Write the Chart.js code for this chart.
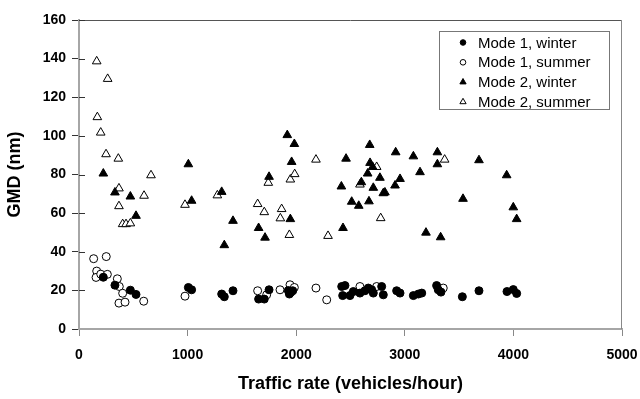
<!DOCTYPE html>
<html lang="en">
<head>
    <meta charset="UTF-8">
    <title>GMD vs traffic rate</title>
    <script src="https://cdn.jsdelivr.net/npm/chart.js"></script>
    <style>
        body {
            margin: 0;
            padding: 0;
            background-color: #fff;
        }
    </style>
</head>
<body>
    <canvas id="gmdChart" width="640" height="399"></canvas>
    <script>
        // values (traffic rate in vehicles/hour, GMD in nm)
        const m1WinterRate = [224, 331, 473, 525, 1007, 1037, 1314, 1338, 1418, 1654, 1706, 1750, 1927, 1937, 1949, 1968, 2419, 2449, 2428, 2495, 2526, 2587, 2633, 2664, 2695, 2710, 2787, 2802, 2925, 2956, 3079, 3125, 3156, 3293, 3308, 3333, 3530, 3683, 3941, 3999, 4030];
        const m1WinterGmd = [26.8, 22.7, 20.1, 17.9, 21.5, 20.3, 18.1, 16.7, 19.8, 15.5, 15.5, 20.3, 19.9, 18.1, 18.9, 19.8, 22, 22.5, 17.3, 17.3, 19.4, 18.6, 19.8, 21.2, 20.3, 18.6, 22, 17.7, 19.8, 18.6, 17.3, 18.1, 18.6, 22.5, 20.3, 19.1, 16.7, 19.8, 19.4, 20.4, 18.4];

        const m1SummerRate = [135, 251, 163, 157, 200, 261, 353, 371, 402, 368, 424, 596, 976, 1645, 1728, 1851, 1943, 1983, 2182, 2281, 2587, 2741, 3354];
        const m1SummerGmd = [36.4, 37.5, 30, 26.7, 28.4, 28.3, 26, 22, 18.5, 13.4, 13.9, 14.4, 17, 19.8, 17.7, 20.3, 22.9, 21.5, 21.2, 15.1, 22, 22, 21.2];

        const m2WinterRate = [224, 331, 473, 525, 1007, 1037, 1314, 1338, 1418, 1654, 1713, 1750, 1918, 1983, 1958, 1946, 2416, 2431, 2459, 2511, 2576, 2600, 2658, 2670, 2677, 2680, 2704, 2710, 2771, 2802, 2817, 2910, 2916, 2956, 3079, 3140, 3195, 3300, 3300, 3330, 3536, 3683, 3938, 3999, 4030];
        const m2WinterGmd = [80.5, 70.7, 68.6, 58.6, 85.3, 66.4, 71, 43.4, 56, 52.3, 47.3, 78.8, 100.4, 95.8, 86.5, 56.9, 73.8, 52.3, 88.2, 65.9, 63.8, 76, 80.5, 66.1, 95.3, 86, 83.9, 73.1, 78.3, 70.3, 70.7, 74.3, 91.5, 77.7, 89.4, 81.2, 49.9, 91.5, 85.3, 47.5, 67.4, 87.4, 79.6, 63, 56.9];

        const m2SummerRate = [163, 264, 169, 200, 249, 362, 368, 663, 599, 368, 402, 433, 473, 976, 1274, 1645, 1706, 1743, 1866, 1854, 1937, 1946, 1986, 2182, 2293, 2587, 2741, 2778, 3367];
        const m2SummerGmd = [138.6, 129.5, 109.7, 101.7, 90.5, 88.2, 72.8, 79.6, 69, 63.6, 54.3, 54.3, 54.7, 64.3, 69.2, 64.7, 60.5, 75.7, 62.1, 57.3, 48.7, 77.4, 80.2, 87.7, 48.2, 74.8, 83.9, 57.4, 87.7];

        const seriesLabels = ['Mode 1, winter', 'Mode 1, summer', 'Mode 2, winter', 'Mode 2, summer'];
        const xTicks = [0, 1000, 2000, 3000, 4000, 5000];
        const yTicks = [0, 20, 40, 60, 80, 100, 120, 140, 160];

        const FONT = 'Liberation Sans, Arial, sans-serif';

        function pairs(xs, ys) {
            return xs.map((x, i) => ({ x: x, y: ys[i] }));
        }

        function series(label, xs, ys, style, filled) {
            return {
                label: label,
                data: pairs(xs, ys),
                pointStyle: style,
                pointRadius: style === 'circle' ? 4 : 5,
                backgroundColor: filled ? '#000' : '#fff',
                borderColor: '#000',
                borderWidth: 1,
                showLine: false
            };
        }

        // border box round the plot, inner half of the left ticks, and the boxed legend
        const framePlugin = {
            id: 'frame',
            afterDraw(chart) {
                const ctx = chart.ctx;
                const a = chart.chartArea;
                const ys = chart.scales.y;
                ctx.save();
                ctx.lineWidth = 1;
                ctx.strokeStyle = '#555';
                ctx.beginPath();
                ctx.moveTo(a.left, a.top + 0.5);
                ctx.lineTo(a.right, a.top + 0.5);
                ctx.stroke();
                ctx.strokeStyle = '#888';
                ctx.beginPath();
                ctx.moveTo(a.right - 0.5, a.top);
                ctx.lineTo(a.right - 0.5, a.bottom);
                ctx.stroke();

                ctx.strokeStyle = '#333';
                yTicks.forEach(v => {
                    if (v === 0) return;
                    const py = Math.round(ys.getPixelForValue(v)) + 0.5;
                    ctx.beginPath();
                    ctx.moveTo(a.left, py);
                    ctx.lineTo(a.left + 6, py);
                    ctx.stroke();
                });

                // legend
                const bx = 439, by = 31, bw = 170, bh = 78;
                ctx.fillStyle = '#fff';
                ctx.fillRect(bx, by, bw, bh);
                ctx.strokeStyle = '#777';
                ctx.strokeRect(bx + 0.5, by + 0.5, bw, bh);
                ctx.font = '15px ' + FONT;
                ctx.textBaseline = 'middle';
                chart.data.datasets.forEach((ds, i) => {
                    const cy = 42.5 + i * 19.8;
                    ctx.fillStyle = ds.backgroundColor;
                    ctx.strokeStyle = ds.borderColor;
                    Chart.helpers.drawPoint(ctx, {
                        pointStyle: ds.pointStyle,
                        radius: ds.pointStyle === 'circle' ? 2.8 : 3.6,
                        borderWidth: 1,
                        rotation: 0
                    }, 463, cy);
                    ctx.fillStyle = '#000';
                    ctx.fillText(ds.label, 478, cy + 1);
                });
                ctx.restore();
            }
        };

        new Chart(document.getElementById('gmdChart'), {
            type: 'scatter',
            data: {
                datasets: [
                    series(seriesLabels[0], m1WinterRate, m1WinterGmd, 'circle', true),
                    series(seriesLabels[1], m1SummerRate, m1SummerGmd, 'circle', false),
                    series(seriesLabels[2], m2WinterRate, m2WinterGmd, 'triangle', true),
                    series(seriesLabels[3], m2SummerRate, m2SummerGmd, 'triangle', false)
                ]
            },
            options: {
                responsive: false,
                animation: false,
                devicePixelRatio: 1,
                layout: { padding: { top: 20, right: 18, left: 0, bottom: 0 } },
                plugins: {
                    legend: { display: false },
                    tooltip: { enabled: false }
                },
                scales: {
                    x: {
                        type: 'linear',
                        min: xTicks[0],
                        max: xTicks[xTicks.length - 1],
                        afterBuildTicks: s => { s.ticks = xTicks.map(v => ({ value: v })); },
                        afterFit: s => {
                            s.height = 70;
                            s.paddingLeft = 0;
                            s.paddingRight = 0;
                        },
                        grid: { drawOnChartArea: false, tickLength: 7, tickColor: '#888' },
                        border: { color: '#a6a6a6', width: 2 },
                        ticks: {
                            padding: 11,
                            color: '#000',
                            callback: v => String(v),
                            font: { family: FONT, size: 14, weight: 'bold' }
                        },
                        title: {
                            display: true,
                            text: 'Traffic rate (vehicles/hour)',
                            color: '#000',
                            padding: { top: 4, bottom: 4 },
                            font: { family: FONT, size: 18, weight: 'bold' }
                        }
                    },
                    y: {
                        type: 'linear',
                        min: yTicks[0],
                        max: yTicks[yTicks.length - 1],
                        afterBuildTicks: s => { s.ticks = yTicks.map(v => ({ value: v })); },
                        afterFit: s => { s.width = 79; },
                        grid: { drawOnChartArea: false, tickLength: 7, tickColor: '#333' },
                        border: { color: '#a6a6a6', width: 2 },
                        ticks: {
                            padding: 6,
                            color: '#000',
                            callback: v => String(v),
                            font: { family: FONT, size: 14, weight: 'bold' }
                        },
                        title: {
                            display: true,
                            text: 'GMD (nm)',
                            color: '#000',
                            padding: { top: 4, bottom: 4 },
                            font: { family: FONT, size: 18, weight: 'bold' }
                        }
                    }
                }
            },
            plugins: [framePlugin]
        });
    </script>
</body>
</html>
